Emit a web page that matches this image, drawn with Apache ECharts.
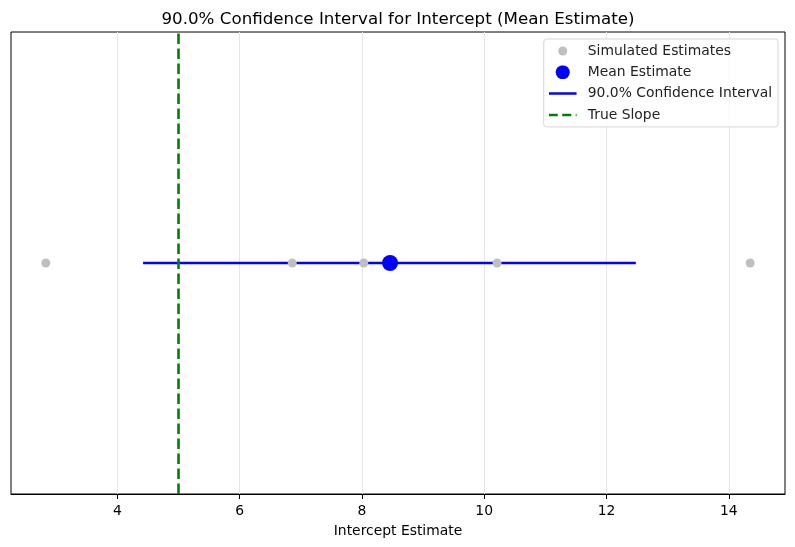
<!DOCTYPE html>
<html>
<head>
<meta charset="utf-8">
<script src="https://cdn.jsdelivr.net/npm/echarts@6/dist/echarts.min.js"></script>
<style>
  html, body { margin: 0; padding: 0; background: #fff; }
  #chart { width: 795px; height: 547px; }
</style>
</head>
<body>
<div id="chart"></div>
<script>
// data
var simEstimates = [2.83, 6.86, 8.03, 10.21, 14.35];
var meanEstimate = 8.46;
var ciBounds = [4.42, 12.48];
var trueSlope = 5.0;
var xTicks = [4, 6, 8, 10, 12, 14];
var xRange = [2.26, 14.92];

var font = 'DejaVu Sans';

// small svg legend handles, same look as the marks
function svgIcon(body) {
    return 'image://data:image/svg+xml;utf8,' + encodeURIComponent(
        '<svg xmlns="http://www.w3.org/2000/svg" width="28" height="14" viewBox="0 0 28 14">' + body + '</svg>');
}

var chart = echarts.init(document.getElementById('chart'));

var simData = simEstimates.map(function (v) { return [v, 0]; });
var ciData = ciBounds.map(function (v) { return [v, 0]; });

var option = {
    animation: false,
    backgroundColor: '#fff',
    textStyle: { fontFamily: font },
    title: {
        text: '90.0% Confidence Interval for Intercept (Mean Estimate)',
        left: 393,
        textAlign: 'center',
        top: 6,
        textStyle: { fontFamily: font, fontSize: 16.7, fontWeight: 'normal', color: '#000' }
    },
    legend: {
        orient: 'vertical',
        right: 17,
        top: 39,
        padding: [5, 6, 5, 5],
        itemGap: 7.3,
        itemWidth: 28,
        itemHeight: 14,
        borderColor: '#d6d6d6',
        borderWidth: 1,
        borderRadius: 3,
        backgroundColor: 'rgba(255,255,255,0.8)',
        textStyle: { fontFamily: font, fontSize: 13.9, color: '#222', padding: [0, 0, 0, 6] },
        data: [
            { name: 'Simulated Estimates', icon: svgIcon('<circle cx="14" cy="7" r="4.5" fill="#bfbfbf"/>') },
            { name: 'Mean Estimate', icon: svgIcon('<circle cx="14" cy="7" r="7" fill="#0000ff"/>') },
            { name: '90.0% Confidence Interval', icon: svgIcon('<line x1="0" y1="7" x2="28" y2="7" stroke="#0000ff" stroke-width="2.5"/>') },
            { name: 'True Slope', icon: svgIcon('<line x1="0" y1="7" x2="28" y2="7" stroke="#008000" stroke-width="2.5" stroke-dasharray="9 4.5"/>') }
        ]
    },
    grid: {
        left: 11,
        right: 10,
        top: 32,
        bottom: 53,
        show: true,
        borderColor: '#000',
        borderWidth: 1,
        containLabel: false
    },
    xAxis: {
        type: 'value',
        min: xRange[0],
        max: xRange[1],
        name: 'Intercept Estimate',
        nameLocation: 'middle',
        nameGap: 30,
        nameTextStyle: { fontFamily: font, fontSize: 13.9, color: '#000' },
        axisLine: { show: true, onZero: false, lineStyle: { color: '#000', width: 1 } },
        axisTick: { show: true, length: 5, customValues: xTicks, lineStyle: { color: '#000' } },
        axisLabel: { customValues: xTicks, fontFamily: font, fontSize: 13.9, color: '#000', margin: 10 },
        splitLine: { show: true, lineStyle: { color: '#e6e6e6', width: 1 } }
    },
    yAxis: {
        type: 'value',
        min: -1,
        max: 1,
        show: false,
        splitLine: { show: false }
    },
    series: [
        {
            name: '90.0% Confidence Interval',
            type: 'line',
            data: ciData,
            symbol: 'none',
            z: 2,
            lineStyle: { color: '#0000ff', width: 2.6 },
            itemStyle: { color: '#0000ff' }
        },
        {
            name: 'Simulated Estimates',
            type: 'scatter',
            data: simData,
            symbolSize: 9,
            z: 3,
            itemStyle: { color: '#bfbfbf', opacity: 1 }
        },
        {
            name: 'Mean Estimate',
            type: 'scatter',
            data: [[meanEstimate, 0]],
            symbolSize: 16,
            z: 4,
            itemStyle: { color: '#0000ff', opacity: 1 }
        },
        {
            name: 'True Slope',
            type: 'line',
            data: [[trueSlope, -1], [trueSlope, 1]],
            symbol: 'none',
            z: 5,
            lineStyle: { color: '#008000', width: 2.6, type: [10.5, 4.5] },
            itemStyle: { color: '#008000' }
        }
    ]
};

chart.setOption(option);
</script>
</body>
</html>
